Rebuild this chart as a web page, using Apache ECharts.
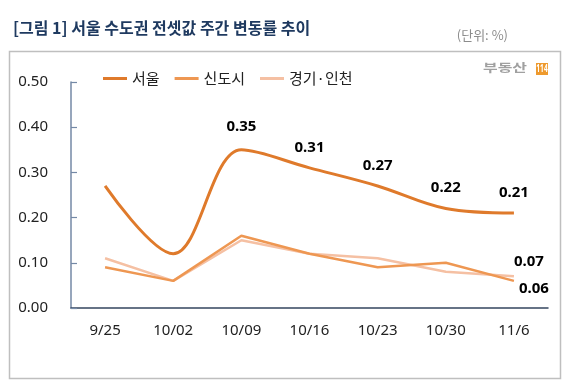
<!DOCTYPE html>
<html><head><meta charset="utf-8">
<script src="https://cdn.jsdelivr.net/npm/echarts@6/dist/echarts.min.js"></script>
<style>html,body{margin:0;padding:0;background:#fff}#c{width:571px;height:391px}</style>
</head><body><div id="c"></div>
<script>
const categories = ['9/25','10/02','10/09','10/16','10/23','10/30','11/6'];
const seoul = [0.27, 0.12, 0.35, 0.31, 0.27, 0.22, 0.21];
const newTown = [0.09, 0.06, 0.16, 0.12, 0.09, 0.10, 0.06];
const gyeonggi = [0.11, 0.06, 0.15, 0.12, 0.11, 0.08, 0.07];
const seriesNames = ['서울', '신도시', '경기·인천'];
const titleText = '[그림 1] 서울 수도권 전셋값 주간 변동률 추이';
const unitText = '(단위: %)';

const NUM = '"Noto Sans", "Noto Sans CJK KR", sans-serif';
const KR = '"Noto Sans CJK KR", sans-serif';
const labelStyle = {fontFamily: NUM, fontWeight: 'bold', fontSize: 15, color: '#000'};

const seoulData = seoul.map((v, i) => ({
  value: v,
  label: i >= 2 ? Object.assign({show: true, position: 'top', distance: i === 2 ? 16 : 13}, labelStyle) : {show: false}
}));
const newTownData = newTown.map((v, i) => ({
  value: v,
  label: i === newTown.length - 1 ? Object.assign({show: true, position: 'bottom', distance: 0, offset: [20, 0]}, labelStyle) : {show: false}
}));
const gyeonggiData = gyeonggi.map((v, i) => ({
  value: v,
  label: i === gyeonggi.length - 1 ? Object.assign({show: true, position: 'top', distance: 7, offset: [15, 0]}, labelStyle) : {show: false}
}));

const chart = echarts.init(document.getElementById('c'), null, {renderer: 'canvas'});
chart.setOption({
  animation: false,
  backgroundColor: '#fff',
  graphic: [
    {type: 'rect', shape: {x: 9.5, y: 51.5, width: 551, height: 327}, style: {fill: 'none', stroke: '#BFBFBF', lineWidth: 1.5}, z: -1},
    {type: 'text', left: 13, top: 20, style: {text: titleText, font: 'bold 16px "Noto Sans CJK KR", sans-serif', fill: '#1F3A60'}},
    {type: 'text', right: 63, top: 29, style: {text: unitText, font: '13px "Noto Sans CJK KR", sans-serif', fill: '#8C8C8C'}},
    {type: 'text', x: 483, y: 62, scaleX: 1.45, style: {text: '부동산', font: 'bold 11px "Noto Sans CJK KR", sans-serif', fill: '#A0A0A0'}},
    {type: 'rect', shape: {x: 536, y: 63, width: 12, height: 12}, style: {fill: '#EE9A2E'}},
    {type: 'text', x: 542, y: 69, scaleX: 0.6, style: {text: '114', font: 'bold 11px "Noto Sans", sans-serif', fill: '#fff', align: 'center', verticalAlign: 'middle'}}
  ],
  legend: {
    data: seriesNames,
    left: 98, top: 66,
    icon: 'rect', itemWidth: 24, itemHeight: 3, itemGap: 15,
    textStyle: {fontFamily: KR, fontSize: 15, color: '#222'}
  },
  grid: {left: 71, right: 23, top: 82, bottom: 83},
  xAxis: {
    type: 'category', data: categories, boundaryGap: true,
    axisLine: {lineStyle: {color: '#34465F', width: 1.5}},
    axisTick: {inside: true, length: 6, lineStyle: {color: '#4A5E7C', width: 1.2}},
    axisLabel: {fontFamily: NUM, fontSize: 15, color: '#222', margin: 15}
  },
  yAxis: {
    type: 'value', min: 0, max: 0.5, interval: 0.1,
    axisLine: {show: true, lineStyle: {color: '#7489A6', width: 1.5}},
    axisTick: {show: true, inside: true, length: 6, lineStyle: {color: '#7489A6', width: 1.2}},
    splitLine: {show: false},
    axisLabel: {fontFamily: NUM, fontSize: 15, color: '#222', margin: 23, formatter: v => v.toFixed(2)}
  },
  series: [
    {name: seriesNames[2], type: 'line', data: gyeonggiData, symbol: 'circle', symbolSize: 0.1, showSymbol: true,
     lineStyle: {color: '#F5C0A3', width: 2.5}, itemStyle: {color: '#F5C0A3'}, z: 2},
    {name: seriesNames[1], type: 'line', data: newTownData, symbol: 'circle', symbolSize: 0.1, showSymbol: true,
     lineStyle: {color: '#EE9752', width: 2.5}, itemStyle: {color: '#EE9752'}, z: 3},
    {name: seriesNames[0], type: 'line', data: seoulData, smooth: 0.35, symbol: 'circle', symbolSize: 0.1, showSymbol: true,
     lineStyle: {color: '#DF7A2B', width: 3}, itemStyle: {color: '#DF7A2B'}, z: 4}
  ]
});
</script></body></html>
